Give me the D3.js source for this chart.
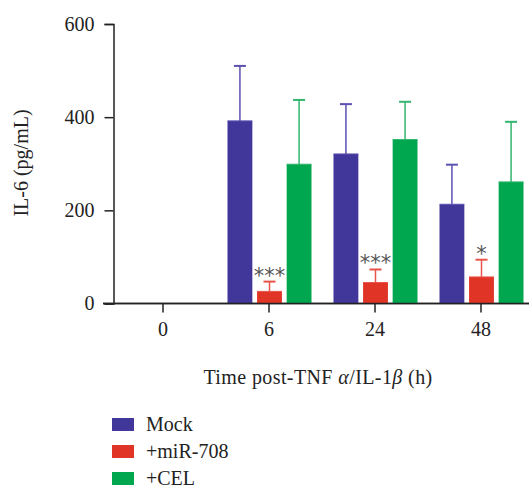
<!DOCTYPE html>
<html><head><meta charset="utf-8">
<script src="https://cdn.jsdelivr.net/npm/d3@7"></script>
<style>body{margin:0;background:#fff}svg{display:block}</style>
</head><body>
<svg id="c" width="529" height="485"></svg>
<script>
const categories = ["0", "6", "24", "48"];
const seriesNames = ["Mock", "+miR-708", "+CEL"];
const mockValues = [null, 392, 321, 213];
const mockErrors = [null, 510, 428, 298];
const mirValues = [null, 26, 45, 57];
const mirErrors = [null, 47, 73, 94];
const celValues = [null, 299, 352, 261];
const celErrors = [null, 437, 433, 390];
const stars = [null, "***", "***", "*"];
const yTicks = [0, 200, 400, 600];

const colors = ["#41369a", "#e03426", "#00a74f"];
const errColors = ["#5b51b0", "#e8534a", "#33b56e"];
const series = [
  {name: seriesNames[0], values: mockValues, errs: mockErrors},
  {name: seriesNames[1], values: mirValues, errs: mirErrors},
  {name: seriesNames[2], values: celValues, errs: celErrors}
];

const svg = d3.select("#c");
const font = "'Liberation Serif', 'Times New Roman', serif";
const fs = 20;
const y = d3.scaleLinear().domain([0, 600]).range([303.5, 24]);
const x = d3.scaleBand().domain(categories).range([110, 534]).paddingInner(0).paddingOuter(0);
const sub = d3.scaleBand().domain(seriesNames).range([-41.5, 42.5]).paddingInner(0.16);

// y axis
const ya = svg.append("g").attr("transform", "translate(113.5,0)")
  .call(d3.axisLeft(y).tickValues(yTicks).tickSize(9).tickPadding(10).tickFormat(d3.format("d")));
ya.select(".domain").attr("stroke", "#222").attr("stroke-width", 1.5);
ya.selectAll(".tick line").attr("stroke", "#222").attr("stroke-width", 1.5);
ya.selectAll("text").attr("font-family", font).attr("font-size", fs).attr("fill", "#222");

// x axis
const xa = svg.append("g").attr("transform", "translate(0,303.5)")
  .call(d3.axisBottom(x).tickSize(9).tickPadding(9).tickSizeOuter(0));
xa.select(".domain").attr("d", "M103,0H529").attr("stroke", "#222").attr("stroke-width", 1.5);
xa.selectAll(".tick line").attr("stroke", "#222").attr("stroke-width", 1.5);
xa.selectAll("text").attr("font-family", font).attr("font-size", fs).attr("fill", "#222");

// bars
series.forEach((s, si) => {
  const g = svg.append("g");
  categories.forEach((c, ci) => {
    const v = s.values[ci];
    if (v == null) return;
    const cx = x(c) + x.bandwidth() / 2 + sub(s.name) + sub.bandwidth() / 2;
    const bx = x(c) + x.bandwidth() / 2 + sub(s.name);
    g.append("line").attr("x1", cx).attr("x2", cx).attr("y1", y(v)).attr("y2", y(s.errs[ci]))
      .attr("stroke", errColors[si]).attr("stroke-width", 1.5);
    g.append("line").attr("x1", cx - 6).attr("x2", cx + 6).attr("y1", y(s.errs[ci])).attr("y2", y(s.errs[ci]))
      .attr("stroke", errColors[si]).attr("stroke-width", 2);
    g.append("rect").attr("x", bx).attr("width", sub.bandwidth())
      .attr("y", y(v)).attr("height", y(0) - y(v)).attr("fill", colors[si]);
    g.append("line").attr("x1", bx).attr("x2", bx + sub.bandwidth()).attr("y1", y(v)).attr("y2", y(v))
      .attr("stroke", errColors[si]).attr("stroke-width", 1);
    if (si === 1 && stars[ci]) {
      svg.append("text").attr("x", cx).attr("y", y(s.errs[ci]) + 1)
        .attr("text-anchor", "middle").attr("font-family", "'DejaVu Sans', sans-serif")
        .attr("font-size", 21).attr("fill", "#555").text(stars[ci]);
    }
  });
});
svg.append("line").attr("x1", 103).attr("x2", 529).attr("y1", 303.5).attr("y2", 303.5)
  .attr("stroke", "#222").attr("stroke-width", 1.5);

// axis titles
svg.append("text").attr("transform", "translate(28,163) rotate(-90)")
  .attr("text-anchor", "middle").attr("font-family", font).attr("font-size", fs).attr("fill", "#222")
  .text("IL-6 (pg/mL)");
const xt = svg.append("text").attr("x", 318).attr("y", 383.5)
  .attr("text-anchor", "middle").attr("font-family", font).attr("font-size", fs).attr("fill", "#222")
  .attr("letter-spacing", 0.4);
xt.append("tspan").text("Time post-TNF ");
xt.append("tspan").attr("font-style", "italic").text("α");
xt.append("tspan").text("/IL-1");
xt.append("tspan").attr("font-style", "italic").text("β");
xt.append("tspan").text(" (h)");

// legend
const lg = svg.append("g");
seriesNames.forEach((n, i) => {
  const yy = 418 + i * 27;
  lg.append("rect").attr("x", 112).attr("y", yy).attr("width", 22).attr("height", 13).attr("fill", colors[i]);
  lg.append("text").attr("x", 146).attr("y", yy + 12.5).attr("font-family", font).attr("font-size", fs)
    .attr("fill", "#222").text(n);
});
</script>
</body></html>
